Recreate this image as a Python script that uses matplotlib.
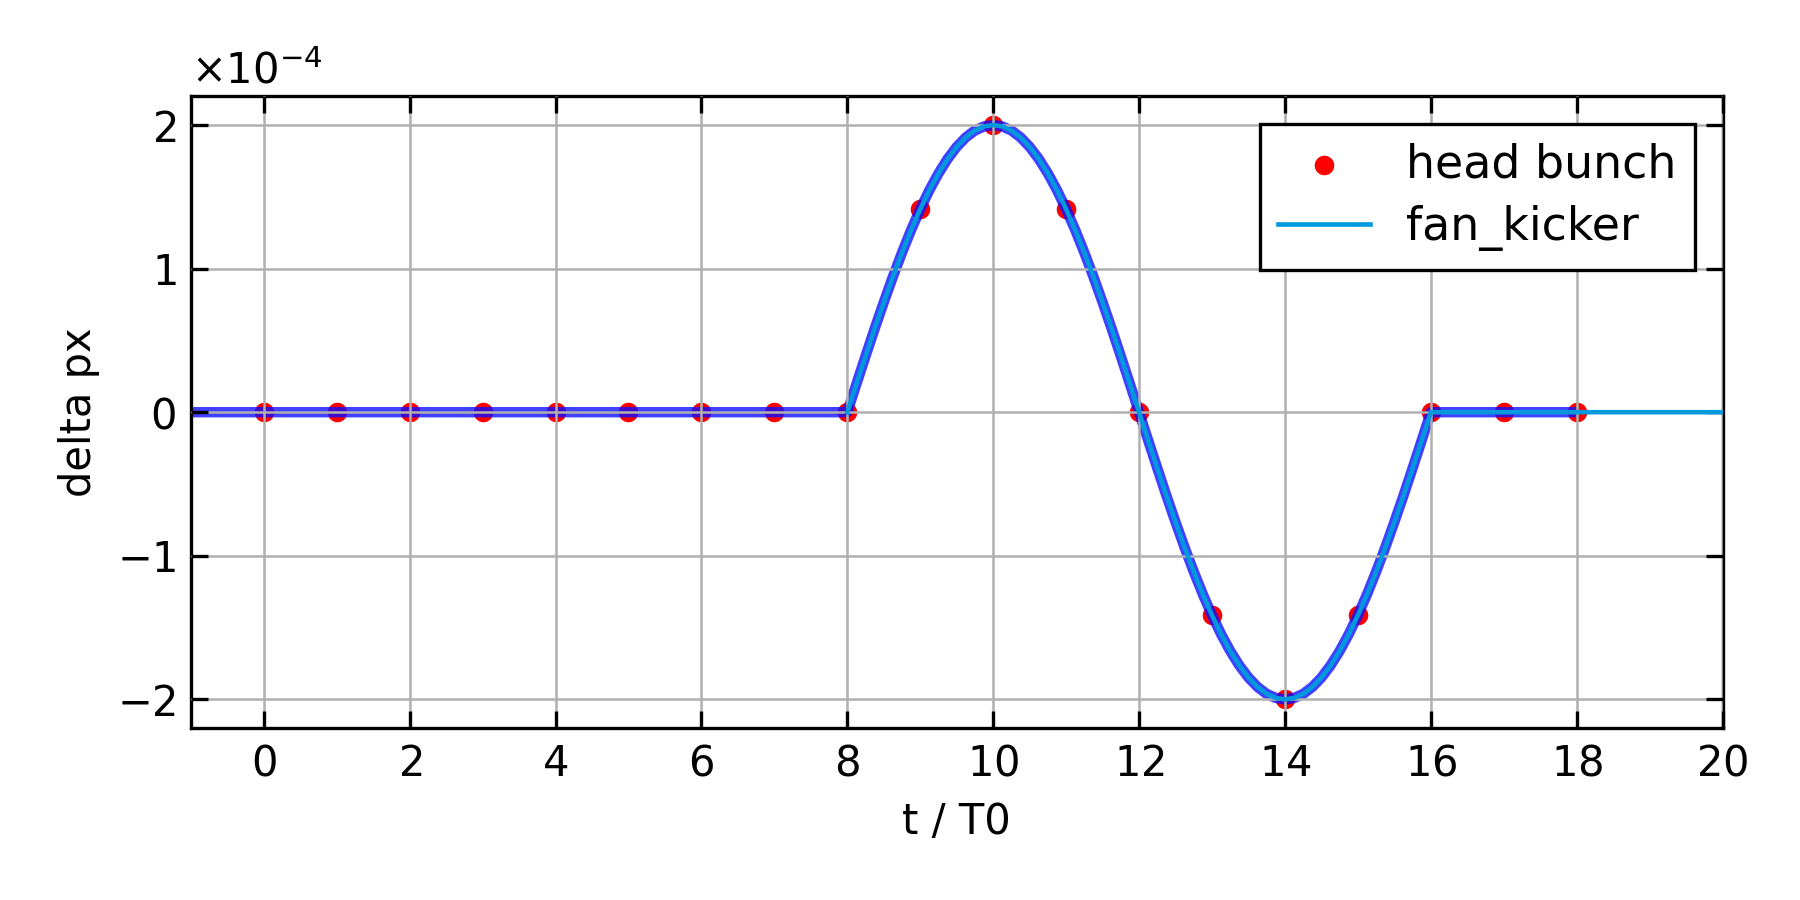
import numpy as np
import matplotlib
matplotlib.use("Agg")
import matplotlib.pyplot as plt

# head bunch samples (units of 1e-4)
turns = [0, 1, 2, 3, 4, 5, 6, 7, 8, 9, 10, 11, 12, 13, 14, 15, 16, 17, 18]
head_bunch = [0, 0, 0, 0, 0, 0, 0, 0, 0, 1.414, 2.0, 1.414, 0, -1.414, -2.0, -1.414, 0, 0, 0]

# kick waveform, step 0.125 turns from t=8 to t=16 (units of 1e-4)
kick_t0 = 8.0
kick_dt = 0.125
kick_v = [0.0, 0.196, 0.390, 0.581, 0.765, 0.943, 1.111, 1.269,
          1.414, 1.546, 1.663, 1.764, 1.848, 1.914, 1.962, 1.990,
          2.0, 1.990, 1.962, 1.914, 1.848, 1.764, 1.663, 1.546,
          1.414, 1.269, 1.111, 0.943, 0.765, 0.581, 0.390, 0.196,
          0.0, -0.196, -0.390, -0.581, -0.765, -0.943, -1.111, -1.269,
          -1.414, -1.546, -1.663, -1.764, -1.848, -1.914, -1.962, -1.990,
          -2.0, -1.990, -1.962, -1.914, -1.848, -1.764, -1.663, -1.546,
          -1.414, -1.269, -1.111, -0.943, -0.765, -0.581, -0.390, -0.196,
          0.0]
kick_t = [kick_t0 + i * kick_dt for i in range(len(kick_v))]

# bunch trace: flat before kick, waveform, flat till turn 18
trace_t = [-1.0] + kick_t + [18.0]
trace_v = [0.0] + kick_v + [0.0]
# fan kicker: waveform then flat to 20
fan_t = kick_t + [20.0]
fan_v = kick_v + [0.0]

scale = 1e-4

plt.rcParams['font.family'] = ['DejaVu Sans']
plt.rcParams['font.size'] = 10
plt.rcParams['axes.formatter.use_mathtext'] = True

fig = plt.figure(figsize=(6, 3), dpi=300)
ax = fig.add_axes([0.106, 0.191, 0.851, 0.702])

ax.scatter(turns, np.array(head_bunch) * scale, s=22, color='red', zorder=1,
           label='head bunch', linewidths=0)
ax.plot(trace_t, np.array(trace_v) * scale, color='#1010ff', lw=2.5, alpha=0.8, zorder=2,
        solid_capstyle='butt')
ax.plot(fan_t, np.array(fan_v) * scale, color='#0099dd', lw=1.1, zorder=3, label='fan_kicker')

ax.set_xlim(-1, 20)
ax.set_ylim(-2.2e-4, 2.2e-4)
ax.set_xticks([0, 2, 4, 6, 8, 10, 12, 14, 16, 18, 20])
ax.set_yticks([-2e-4, -1e-4, 0, 1e-4, 2e-4])
ax.ticklabel_format(axis='y', style='sci', scilimits=(0, 0))
ax.set_axisbelow(False)
ax.grid(True, color='#b0b0b0', lw=0.6)
for gl in ax.get_xgridlines() + ax.get_ygridlines():
    gl.set_zorder(2.5)
ax.tick_params(direction='in', top=True, right=True, length=4, width=0.8)
for s in ax.spines.values():
    s.set_linewidth(0.8)
ax.set_xlabel('t / T0')
ax.set_ylabel('delta px')

leg = ax.legend(loc='upper right', fancybox=False, framealpha=1, edgecolor='black',
                borderaxespad=0.6, fontsize=11, labelspacing=0.4)
leg.get_frame().set_linewidth(0.8)

fig.savefig('out.png', dpi=300)
